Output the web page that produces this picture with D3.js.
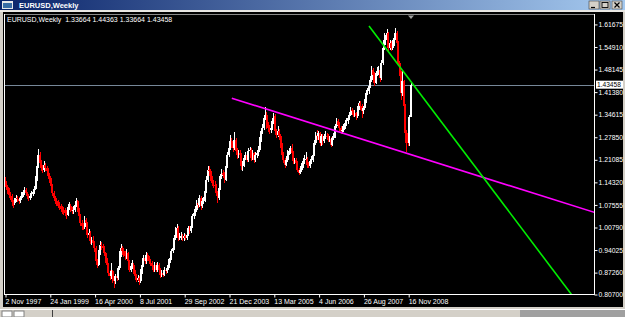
<!DOCTYPE html>
<html>
<head>
<meta charset="utf-8">
<script src="https://cdnjs.cloudflare.com/ajax/libs/d3/7.8.5/d3.min.js"></script>
<style>
html, body { margin: 0; padding: 0; background: #d4d0c8; overflow: hidden; }
svg { display: block; }
</style>
</head>
<body>
<div id="chart"></div>
<script>
// weekly EURUSD chart, bars sampled every two weeks
const windowTitle = 'EURUSD,Weekly';
const infoLine = 'EURUSD,Weekly  1.33664 1.44363 1.33664 1.43458';
const firstBar = '1997-11-02';
const barDays = 14;
const firstOpen = 1.150;

const closes = [
  1.140,1.128,1.120,1.105,1.100,
  1.082,1.080,1.088,1.096,1.092,1.085,1.095,1.105,1.112,1.118,1.110,1.100,1.096,1.102,1.108,1.112,1.122,1.150,1.190,1.225,1.200,1.185,1.180,1.195,1.185,1.175,
  1.160,1.150,1.130,1.110,1.095,1.085,1.080,1.072,1.070,1.062,1.060,1.055,1.050,1.045,1.068,1.072,1.060,1.055,1.060,1.075,1.085,1.060,1.040,1.020,1.010,1.008,
  1.030,1.020,0.985,0.990,0.965,0.968,0.960,0.945,0.905,0.895,0.930,0.955,0.950,0.945,0.930,0.910,0.895,0.870,0.860,0.875,0.850,0.845,0.860,0.855,0.885,0.925,
  0.945,0.935,0.930,0.920,0.930,0.905,0.880,0.890,0.895,0.875,0.860,0.850,0.855,0.845,0.875,0.895,0.915,0.905,0.925,0.915,0.905,0.900,0.890,0.880,0.895,0.880,
  0.895,0.880,0.865,0.870,0.865,0.880,0.875,0.885,0.905,0.915,0.935,0.945,0.975,0.995,1.005,0.975,0.980,0.982,0.975,0.980,0.975,0.985,1.005,0.995,1.010,1.040,
  1.050,1.060,1.080,1.075,1.095,1.070,1.085,1.090,1.115,1.150,1.180,1.175,1.155,1.140,1.135,1.130,1.110,1.095,1.125,1.160,1.170,1.165,1.150,1.190,1.225,1.245,
  1.265,1.255,1.245,1.270,1.235,1.225,1.230,1.225,1.190,1.195,1.215,1.225,1.210,1.235,1.240,1.215,1.230,1.210,1.225,1.230,1.240,1.270,1.295,1.305,1.335,1.345,
  1.310,1.305,1.300,1.305,1.325,1.340,1.295,1.285,1.295,1.280,1.255,1.225,1.210,1.195,1.210,1.230,1.235,1.245,1.230,1.205,1.208,1.200,1.180,1.170,1.180,1.190,
  1.205,1.210,1.212,1.195,1.192,1.205,1.210,1.225,1.260,1.285,1.280,1.290,1.260,1.280,1.265,1.280,1.282,1.278,1.270,1.272,1.255,1.275,1.280,1.310,1.325,1.315,
  1.305,1.295,1.300,1.310,1.320,1.325,1.335,1.345,1.360,1.355,1.345,1.350,1.340,1.365,1.380,1.370,1.355,1.365,1.385,1.410,1.415,1.430,1.450,1.480,1.465,1.440,
  1.470,1.475,1.480,1.455,1.500,1.545,1.570,1.575,1.590,1.545,1.560,1.545,1.555,1.575,1.590,1.560,1.500,1.470,1.410,1.445,1.370,1.290,1.270,1.260,1.33664,1.43458
];
const highs = [
  1.158,1.146,1.135,1.126,1.112,
  1.106,1.090,1.095,1.104,1.102,1.098,1.102,1.112,1.120,1.128,1.124,1.114,1.106,1.110,1.116,1.122,1.132,1.160,1.205,1.242,1.232,1.208,1.194,1.205,1.200,1.192,
  1.186,1.170,1.156,1.136,1.116,1.102,1.094,1.088,1.082,1.078,1.072,1.068,1.064,1.058,1.078,1.084,1.078,1.068,1.070,1.084,1.094,1.090,1.066,1.046,1.030,1.020,
  1.042,1.036,1.024,1.002,0.996,0.978,0.980,0.966,0.950,0.912,0.938,0.966,0.962,0.958,0.950,0.934,0.915,0.900,0.878,0.900,0.880,0.858,0.868,0.870,0.892,0.935,
  0.956,0.952,0.944,0.936,0.942,0.934,0.910,0.900,0.908,0.900,0.880,0.866,0.864,0.862,0.882,0.902,0.924,0.920,0.934,0.930,0.922,0.912,0.906,0.894,0.904,0.900,
  0.904,0.900,0.886,0.878,0.876,0.888,0.886,0.894,0.912,0.924,0.942,0.956,0.984,1.008,1.018,1.010,0.990,0.992,0.988,0.990,0.988,0.994,1.012,1.010,1.018,1.046,
  1.062,1.072,1.090,1.088,1.105,1.102,1.094,1.098,1.124,1.160,1.192,1.190,1.182,1.162,1.150,1.146,1.136,1.116,1.134,1.168,1.182,1.180,1.172,1.198,1.234,1.258,
  1.285,1.274,1.262,1.292,1.276,1.244,1.240,1.238,1.230,1.205,1.224,1.234,1.230,1.244,1.248,1.244,1.238,1.234,1.232,1.240,1.250,1.278,1.304,1.316,1.345,1.367,
  1.352,1.322,1.314,1.316,1.334,1.350,1.346,1.302,1.310,1.302,1.286,1.260,1.232,1.216,1.220,1.238,1.246,1.252,1.256,1.236,1.216,1.214,1.206,1.186,1.190,1.200,
  1.214,1.225,1.232,1.218,1.204,1.212,1.222,1.234,1.268,1.294,1.298,1.296,1.294,1.288,1.286,1.288,1.296,1.290,1.286,1.282,1.278,1.282,1.290,1.318,1.336,1.332,
  1.322,1.312,1.310,1.318,1.330,1.334,1.344,1.352,1.368,1.366,1.360,1.358,1.354,1.372,1.386,1.385,1.376,1.372,1.392,1.418,1.426,1.440,1.460,1.490,1.484,1.472,
  1.476,1.488,1.490,1.486,1.510,1.556,1.590,1.585,1.602,1.594,1.568,1.566,1.568,1.585,1.604,1.596,1.566,1.506,1.476,1.480,1.450,1.376,1.300,1.300,1.345,1.44363
];
const lows = [
  1.128,1.118,1.108,1.096,1.090,
  1.070,1.066,1.074,1.082,1.084,1.076,1.080,1.090,1.098,1.104,1.102,1.092,1.086,1.088,1.096,1.100,1.106,1.118,1.146,1.186,1.190,1.175,1.170,1.174,1.176,1.166,
  1.152,1.140,1.122,1.102,1.086,1.076,1.070,1.064,1.060,1.054,1.048,1.044,1.040,1.032,1.040,1.060,1.052,1.046,1.048,1.054,1.068,1.052,1.032,1.012,1.000,0.998,
  1.002,1.008,0.976,0.972,0.956,0.954,0.950,0.932,0.895,0.884,0.890,0.925,0.940,0.934,0.920,0.900,0.885,0.860,0.850,0.852,0.840,0.825,0.838,0.845,0.850,0.880,
  0.918,0.925,0.918,0.910,0.912,0.896,0.872,0.874,0.882,0.866,0.852,0.842,0.842,0.835,0.840,0.868,0.888,0.896,0.898,0.906,0.896,0.890,0.880,0.872,0.874,0.872,
  0.874,0.870,0.856,0.858,0.858,0.860,0.868,0.870,0.880,0.900,0.910,0.930,0.940,0.970,0.990,0.966,0.968,0.970,0.966,0.966,0.968,0.970,0.980,0.986,0.990,1.004,
  1.032,1.042,1.054,1.066,1.068,1.060,1.064,1.076,1.084,1.110,1.144,1.162,1.146,1.130,1.124,1.120,1.100,1.080,1.090,1.118,1.152,1.156,1.140,1.146,1.184,1.218,
  1.240,1.244,1.232,1.240,1.226,1.212,1.216,1.210,1.180,1.176,1.188,1.208,1.202,1.204,1.226,1.206,1.208,1.200,1.204,1.216,1.222,1.234,1.264,1.288,1.298,1.328,
  1.302,1.294,1.288,1.290,1.298,1.318,1.288,1.276,1.278,1.270,1.246,1.216,1.200,1.186,1.190,1.204,1.224,1.226,1.222,1.198,1.196,1.190,1.172,1.164,1.166,1.174,
  1.184,1.198,1.200,1.186,1.184,1.186,1.196,1.204,1.220,1.254,1.268,1.270,1.250,1.252,1.254,1.260,1.272,1.268,1.262,1.262,1.248,1.250,1.268,1.274,1.304,1.306,
  1.296,1.286,1.288,1.294,1.302,1.310,1.318,1.330,1.340,1.346,1.338,1.338,1.330,1.336,1.360,1.360,1.336,1.346,1.358,1.380,1.404,1.408,1.424,1.444,1.456,1.432,
  1.436,1.460,1.464,1.444,1.450,1.494,1.538,1.555,1.566,1.536,1.538,1.536,1.540,1.550,1.570,1.552,1.490,1.460,1.390,1.400,1.330,1.260,1.233,1.250,1.250,1.33664
];

const dateTicks = ['2 Nov 1997','24 Jan 1999','16 Apr 2000','8 Jul 2001','29 Sep 2002','21 Dec 2003','13 Mar 2005','4 Jun 2006','26 Aug 2007','16 Nov 2008'];
const priceTicks = [1.61675,1.54910,1.48145,1.41380,1.34615,1.27850,1.21085,1.14320,1.07555,1.00790,0.94025,0.87260,0.80700];
const priceRange = [0.807, 1.6465];
const lastPrice = 1.43458;

// trend lines: two anchor points (date, price), drawn as rays to the right
const magentaLine = [['2004-01-18', 1.394], ['2008-10-26', 1.2295]];
const greenLine = [['2007-10-21', 1.6106], ['2008-12-14', 1.44363]];

const W = 625, H = 317;
const plot = {left: 4, right: 594, top: 14, bottom: 294};

const parseISO = d3.timeParse('%Y-%m-%d');
const parseTick = d3.timeParse('%d %b %Y');
const start = parseISO(firstBar);

const bars = closes.map((c, i) => ({
  date: d3.timeDay.offset(start, i * barDays),
  open: i === 0 ? firstOpen : closes[i - 1],
  high: highs[i],
  low: lows[i],
  close: c
}));

const svg = d3.select('#chart').append('svg').attr('width', W).attr('height', H)
  .style('font-family', '"Liberation Sans", Arial, sans-serif');

// ---- window frame ----
const defs = svg.append('defs');
const grad = defs.append('linearGradient').attr('id', 'titleGrad');
grad.append('stop').attr('offset', '0%').attr('stop-color', '#0a246a');
grad.append('stop').attr('offset', '100%').attr('stop-color', '#a6caf0');
defs.append('clipPath').attr('id', 'plotClip').append('rect')
  .attr('x', plot.left + 1).attr('y', plot.top + 1)
  .attr('width', plot.right - plot.left - 1).attr('height', plot.bottom - plot.top - 1);

svg.append('rect').attr('width', W).attr('height', H).attr('fill', '#d4d0c8');
svg.append('rect').attr('x', 0).attr('y', 0).attr('width', W).attr('height', 10).attr('fill', 'url(#titleGrad)');
// small window icon
svg.append('rect').attr('x', 2).attr('y', 1).attr('width', 11).attr('height', 8).attr('fill', '#e8e8e8');
svg.append('rect').attr('x', 3).attr('y', 3).attr('width', 9).attr('height', 5).attr('fill', '#3a6ea5');
svg.append('text').attr('x', 19).attr('y', 8).attr('fill', '#fff')
  .attr('font-size', 7.5).attr('font-weight', 'bold').text(windowTitle);
// title buttons
const btnX = [589, 600, 612];
btnX.forEach(bx => {
  svg.append('rect').attr('x', bx).attr('y', 1).attr('width', 10).attr('height', 8)
    .attr('fill', '#d4d0c8').attr('stroke', '#404040').attr('stroke-width', 0.6);
});
svg.append('line').attr('x1', 591).attr('x2', 595).attr('y1', 7.5).attr('y2', 7.5).attr('stroke', '#000').attr('stroke-width', 1.2);
svg.append('rect').attr('x', 602).attr('y', 2.5).attr('width', 6).attr('height', 5).attr('fill', 'none').attr('stroke', '#000').attr('stroke-width', 0.9);
svg.append('path').attr('d', 'M614.5,2.5L619.5,7.5M619.5,2.5L614.5,7.5').attr('stroke', '#000').attr('stroke-width', 1.2);

svg.append('line').attr('x1', 0).attr('x2', W).attr('y1', 11).attr('y2', 11).attr('stroke', '#ffffff');
// chart window interior
svg.append('rect').attr('x', 3).attr('y', 12).attr('width', 620).attr('height', 295).attr('fill', '#000');

// bottom tab strip
svg.append('line').attr('x1', 0).attr('x2', W).attr('y1', 309.5).attr('y2', 309.5).attr('stroke', '#ffffff');
svg.append('rect').attr('x', 2).attr('y', 311).attr('width', 10).attr('height', 6).attr('fill', '#ffffff').attr('stroke', '#808080');
svg.append('rect').attr('x', 14).attr('y', 311).attr('width', 10).attr('height', 6).attr('fill', '#ffffff').attr('stroke', '#808080');
svg.append('line').attr('x1', 52.5).attr('x2', 52.5).attr('y1', 310).attr('y2', H).attr('stroke', '#404040');
svg.append('rect').attr('x', 520).attr('y', 310).attr('width', 105).attr('height', 7).attr('fill', '#a0a0a0');

// ---- scales ----
const x = d3.scaleTime()
  .domain([start, bars[bars.length - 1].date])
  .range([5, 411]);
const y = d3.scaleLinear().domain(priceRange).range([plot.bottom, plot.top]);

const g = svg.append('g');

// info line
g.append('text').attr('x', 7).attr('y', 22).attr('fill', '#ffffff').attr('font-size', 7)
  .style('white-space', 'pre').text(infoLine);

// current price line
g.append('line').attr('x1', plot.left).attr('x2', plot.right)
  .attr('y1', Math.round(y(lastPrice)) + 0.5).attr('y2', Math.round(y(lastPrice)) + 0.5)
  .attr('stroke', '#778899').attr('stroke-width', 1);

// ---- candles ----
const step = x(d3.timeDay.offset(start, barDays)) - x(start);
const colour = d => d.close >= d.open ? '#ffffff' : '#ff0000';
const cg = g.append('g').attr('clip-path', 'url(#plotClip)').attr('shape-rendering', 'crispEdges');
cg.selectAll('rect.wick').data(bars).join('rect').attr('class', 'wick')
  .attr('x', d => Math.floor(x(d.date)))
  .attr('width', 1)
  .attr('y', d => y(d.high))
  .attr('height', d => Math.max(1, y(d.low) - y(d.high)))
  .attr('fill', colour);
cg.selectAll('rect.body').data(bars).join('rect').attr('class', 'body')
  .attr('x', d => Math.floor(x(d.date) - step / 2))
  .attr('width', 2)
  .attr('y', d => y(Math.max(d.open, d.close)))
  .attr('height', d => Math.max(1, Math.abs(y(d.open) - y(d.close))))
  .attr('fill', colour);

// ---- trend lines (rays) ----
function ray(pts, color) {
  const p1 = [x(parseISO(pts[0][0])), y(pts[0][1])];
  const p2 = [x(parseISO(pts[1][0])), y(pts[1][1])];
  const slope = (p2[1] - p1[1]) / (p2[0] - p1[0]);
  const xe = plot.right + 10;
  g.append('line').attr('clip-path', 'url(#plotClip)')
    .attr('x1', p1[0]).attr('y1', p1[1])
    .attr('x2', xe).attr('y2', p1[1] + slope * (xe - p1[0]))
    .attr('stroke', color).attr('stroke-width', 1.6);
}
ray(magentaLine, '#ff00ff');
ray(greenLine, '#00ee00');

// ---- frame ----
g.append('line').attr('x1', plot.left).attr('x2', plot.right).attr('y1', plot.top + 0.5).attr('y2', plot.top + 0.5).attr('stroke', '#8a8a8a');
g.append('line').attr('x1', plot.left + 0.5).attr('x2', plot.left + 0.5).attr('y1', plot.top).attr('y2', plot.bottom).attr('stroke', '#ffffff');
g.append('line').attr('x1', plot.right + 0.5).attr('x2', plot.right + 0.5).attr('y1', plot.top).attr('y2', plot.bottom + 1).attr('stroke', '#ffffff');
g.append('line').attr('x1', plot.left).attr('x2', plot.right + 1).attr('y1', plot.bottom + 0.5).attr('y2', plot.bottom + 0.5).attr('stroke', '#ffffff');

// chart shift marker
const shiftX = x(bars[bars.length - 1].date);
g.append('path').attr('d', `M${shiftX - 3},15.5L${shiftX + 3},15.5L${shiftX},19Z`).attr('fill', '#a0a0a0');

// ---- axes ----
const xAxis = g.append('g').attr('transform', `translate(0.5,${plot.bottom + 0.5})`)
  .call(d3.axisBottom(x).tickValues(dateTicks.map(parseTick)).tickSize(3).tickSizeOuter(0)
    .tickFormat(d3.timeFormat('%-d %b %Y')));
xAxis.select('.domain').remove();
xAxis.selectAll('line').attr('stroke', '#ffffff');
xAxis.selectAll('text').attr('fill', '#ffffff').attr('font-size', 7)
  .attr('text-anchor', 'start').attr('x', -0.5).attr('y', 9).attr('dy', 0)
  .style('font-family', '"Liberation Sans", Arial, sans-serif');

const yAxis = g.append('g').attr('transform', `translate(${plot.right + 0.5},0.5)`)
  .call(d3.axisRight(y).tickValues(priceTicks).tickSize(3).tickFormat(d3.format('.5f')));
yAxis.select('.domain').remove();
yAxis.selectAll('line').attr('stroke', '#ffffff');
yAxis.selectAll('text').attr('fill', '#ffffff').attr('font-size', 6.8).attr('x', 4)
  .style('font-family', '"Liberation Sans", Arial, sans-serif');

// last price label
const ly = y(lastPrice);
g.append('rect').attr('x', 596).attr('y', ly - 4).attr('width', 27).attr('height', 8).attr('fill', '#ffffff');
g.append('text').attr('x', 597).attr('y', ly + 2.5).attr('fill', '#000').attr('font-size', 6.6)
  .text(d3.format('.5f')(lastPrice));
</script>
</body>
</html>
